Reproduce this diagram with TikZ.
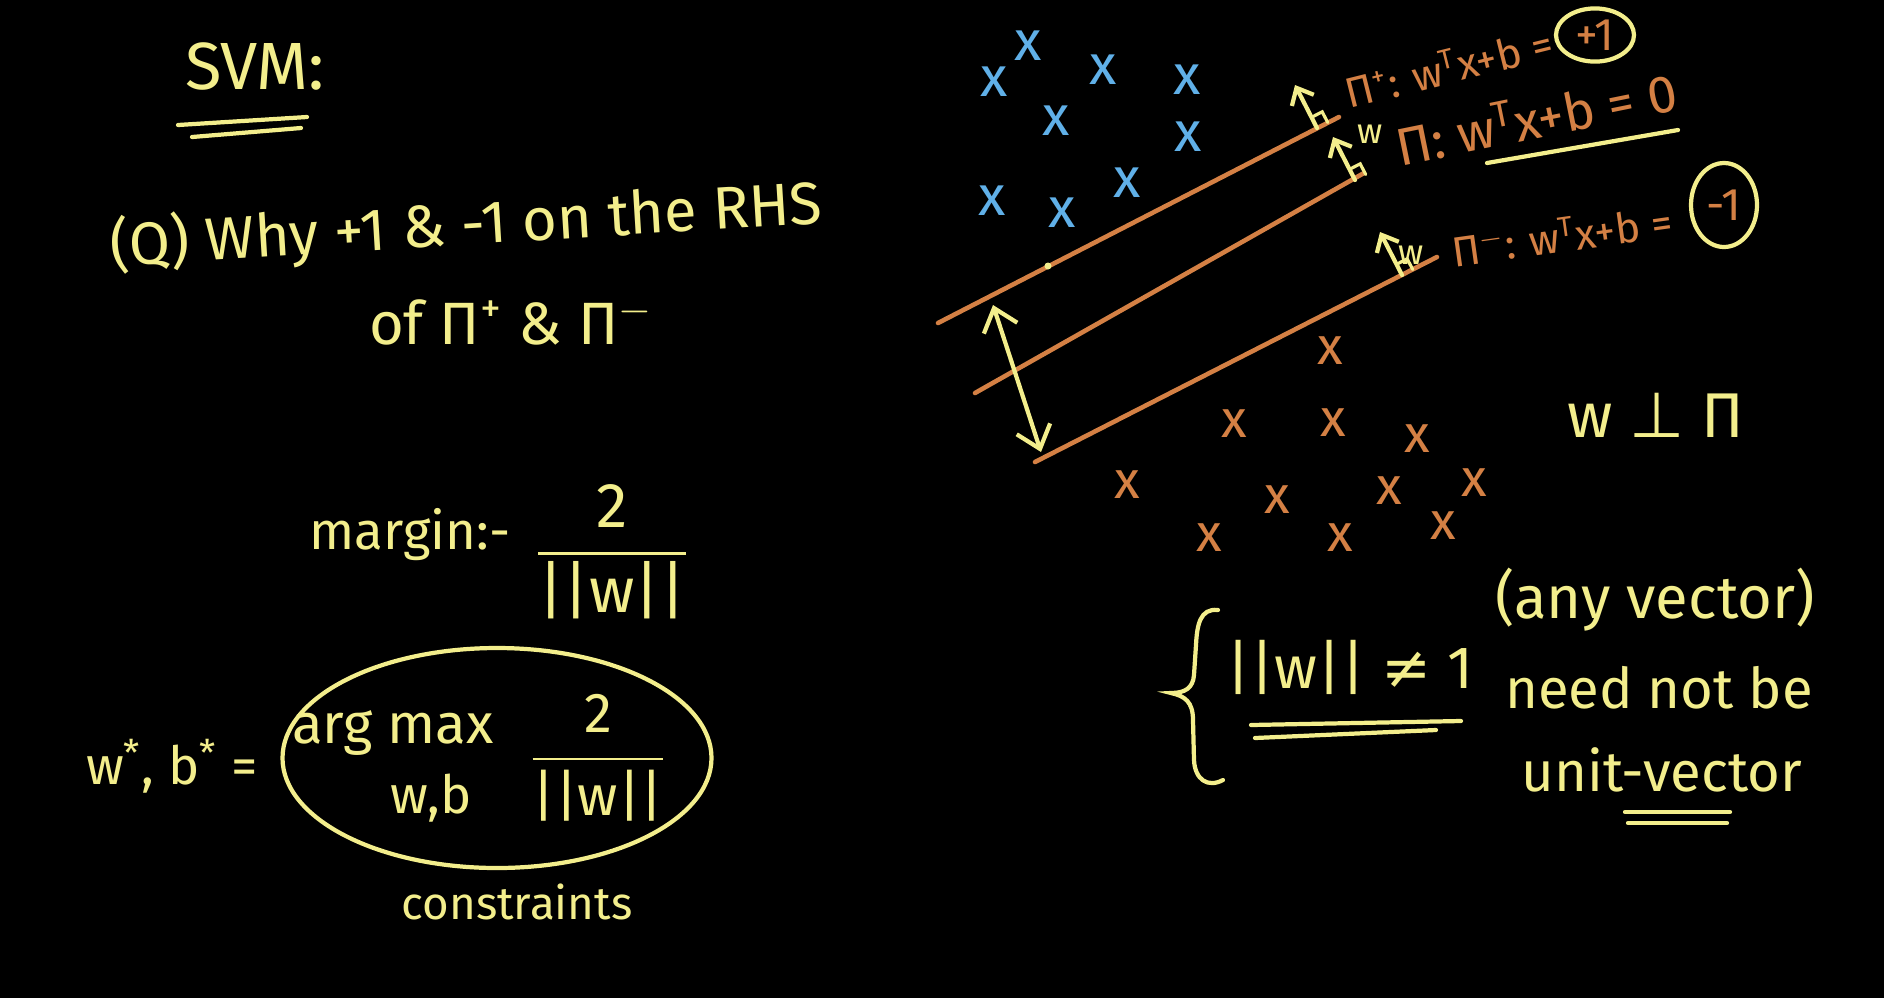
\documentclass[tikz,border=0pt]{standalone}
\usepackage{amsmath}
\usepackage{fontspec}
\setmainfont{Fira Sans}
\newfontfamily\symfont{DejaVu Sans}
\usetikzlibrary{shapes.geometric, arrows.meta, positioning, calc}
\definecolor{chalkY}{RGB}{243,238,140}
\definecolor{chalkO}{RGB}{212,128,68}
\definecolor{chalkB}{RGB}{96,176,232}
\newcommand\chalk[1]{\fontsize{#1}{#1}\selectfont}

\begin{document}
\begin{tikzpicture}[x=1cm,y=-1cm,
  txt/.style={text=chalkY,inner sep=1pt},
  lbl/.style={text=chalkO,inner sep=1pt},
  plane/.style={chalkO,line width=1.3pt,line cap=round},
  pen/.style={chalkY,line width=1.2pt,line cap=round},
  bluex/.style={text=chalkB,font=\chalk{16},inner sep=0pt},
  orangex/.style={text=chalkO,font=\chalk{15},inner sep=0pt},
  ring/.style={draw=chalkY,line width=1.2pt,ellipse,inner sep=1pt,text=chalkO},
  arrow/.style={pen,-{Straight Barb[length=4pt,width=7pt]}},
  span/.style={pen,{Straight Barb[length=6pt,width=10pt]}-{Straight Barb[length=6pt,width=10pt]}}]
  \fill[black] (0,0) rectangle (18.84,9.98);
  \useasboundingbox (0,0) rectangle (18.84,9.98);

  % left: question and margin
  \node[txt,font=\chalk{19}] (svm) at (2.55,0.66) {SVM:};
  \draw[pen] (1.78,1.25) -- (3.07,1.17);
  \draw[pen] (1.92,1.37) -- (3.01,1.28);
  \node[txt,font=\chalk{17},rotate=3.5] (why) at (4.66,2.26) {(Q) Why +1 \& -1 on the RHS};
  \node[txt,font=\chalk{17}] (of) at (5.11,3.22) {of Π\textsuperscript{+} \& Π\textsuperscript{$-$}};
  \node[txt,font=\chalk{15}] (margin) at (4.10,5.35) {margin:-};
  \node[txt,font=\chalk{18}] (mfrac) at (6.12,5.52) {$\dfrac{\text{2}}{\text{||w||}}$};

  % left: optimisation
  \node[txt,font=\chalk{15}] (wb) at (1.72,7.66) {w\textsuperscript{*}, b\textsuperscript{*} =};
  \node[draw=chalkY,line width=1.2pt,ellipse,minimum width=4.29cm,minimum height=2.2cm] (obj) at (4.97,7.58) {};
  \node[txt,font=\chalk{16}] (argmax) at (3.93,7.33) {arg max};
  \node[txt,font=\chalk{15}] (argsub) at (4.31,7.98) {w,b};
  \node[txt,font=\chalk{16}] (ofrac) at (5.98,7.58) {$\dfrac{\text{2}}{\text{||w||}}$};
  \node[txt,font=\chalk{13},below=0.1cm of obj,xshift=0.2cm] (cons) {constraints};

  % right: data points
  \foreach \p in {(9.94,0.82),(10.28,0.46),(11.03,0.70),(11.87,0.80),(10.56,1.21),
                  (11.88,1.37),(9.92,2.01),(10.62,2.13),(11.27,1.83)}
    \node[bluex] at \p {x};
  \foreach \p in {(13.30,3.51),(12.34,4.24),(13.33,4.23),(14.17,4.39),(11.27,4.85),
                  (12.77,5.00),(13.89,4.91),(14.74,4.83),(12.09,5.38),(13.40,5.38),(14.43,5.26)}
    \node[orangex] at \p {x};

  % right: the three planes
  \draw[plane] (9.38,3.23) -- (13.39,1.17);
  \draw[plane] (9.75,3.93) -- (13.64,1.73);
  \draw[plane] (10.35,4.62) -- (14.37,2.57);
  \fill[chalkY] (10.48,2.66) circle (0.035);
  \coordinate (gapA) at (9.93,3.05);
  \coordinate (gapB) at (10.41,4.52);
  \draw[span] (gapA) -- (gapB);

  % normals
  \coordinate (pN) at (13.17,1.28);
  \coordinate (mN) at (13.55,1.80);
  \coordinate (nN) at (14.02,2.75);
  \foreach \t in {pN,mN,nN} {
    \draw[arrow] (\t) -- ++(-0.22,-0.43);
    \draw[pen,line width=0.9pt] ($(\t)+(0.107,-0.055)$) -- ++(-0.055,-0.107) -- ++(-0.107,0.055);
  }
  \node[txt,font=\chalk{10}] (wm) at (13.70,1.34) {w};
  \node[txt,font=\chalk{10}] (wn) at (14.11,2.55) {w};

  % right: plane labels
  \node[lbl,font=\chalk{12},rotate=14,anchor=base west] (lplus) at (13.45,1.10)
    {Π\textsuperscript{+}: w\textsuperscript{T}x+b =};
  \node[ring,font=\chalk{13},minimum width=0.78cm,minimum height=0.5cm] (one) at (15.95,0.35) {+1};
  \node[lbl,font=\chalk{15},rotate=11.5,anchor=base west] (lzero) at (13.96,1.67)
    {Π: w\textsuperscript{T}x+b = 0};
  \draw[pen] (14.87,1.63) -- (16.78,1.30);
  \node[lbl,font=\chalk{12},rotate=8,anchor=base west] (lminus) at (14.50,2.68)
    {Π\textsuperscript{$-$}: w\textsuperscript{T}x+b =};
  \node[ring,font=\chalk{13},minimum width=0.66cm,minimum height=0.84cm] (mone) at (17.24,2.05) {-1};
  \node[txt,font=\chalk{18}] (perp) at (16.56,4.15) {w {\symfont ⊥} Π};

  % right: norm remark
  \draw[pen] (12.18,6.10) .. controls (12.00,6.08) and (11.97,6.25) .. (11.96,6.45)
    -- (11.94,6.75) .. controls (11.93,6.88) and (11.85,6.93) .. (11.71,6.93)
    .. controls (11.85,6.96) and (11.93,7.02) .. (11.93,7.20)
    -- (11.94,7.60) .. controls (11.95,7.80) and (12.08,7.88) .. (12.23,7.80);
  \node[txt,font=\chalk{17}] (norm) at (13.50,6.67) {||w|| {\symfont ≠} 1};
  \draw[pen] (12.51,7.25) -- (14.61,7.21);
  \draw[pen] (12.55,7.38) -- (14.36,7.30);
  \node[txt,font=\chalk{17}] (any) at (16.55,6.00) {(any vector)};
  \node[txt,font=\chalk{16}] (need) at (16.59,6.88) {need not be};
  \node[txt,font=\chalk{16}] (unit) at (16.62,7.70) {unit-vector};
  \draw[pen] (16.25,8.12) -- (17.30,8.12);
  \draw[pen] (16.28,8.23) -- (17.27,8.23);
\end{tikzpicture}
\end{document}
